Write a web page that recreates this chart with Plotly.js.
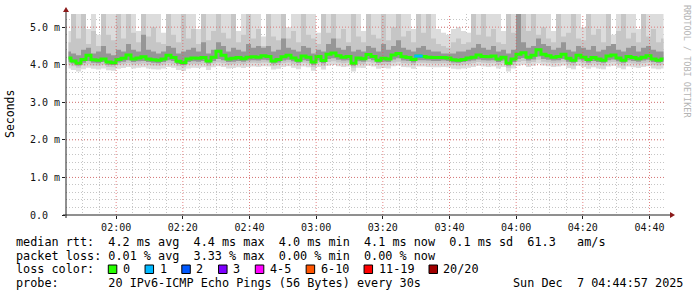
<!DOCTYPE html>
<html>
<head>
<meta charset="utf-8">
<script src="https://cdn.plot.ly/plotly-3.0.1.min.js"></script>
<style>html,body{margin:0;padding:0;background:#fff;}#chart{width:697px;height:297px;}</style>
</head>
<body>
<div id="chart"></div>
<script>
// ---- data (ms), one value per 90 s column, starting 01:44:57 ----
const startTime = Date.UTC(2025, 11, 7, 1, 44, 57);
const endTime = Date.UTC(2025, 11, 7, 4, 44, 57);
const stepSec = 90;

const median = [
4.18,4.10,4.04,4.14,4.25,4.13,4.12,4.15,4.07,4.05,
4.14,4.17,4.26,4.15,4.18,4.21,4.15,4.13,4.12,4.15,
4.25,4.19,4.09,4.06,4.15,4.18,4.17,4.19,4.10,4.20,
4.36,4.25,4.15,4.17,4.19,4.16,4.20,4.21,4.20,4.24,
4.22,4.10,4.14,4.21,4.25,4.18,4.12,4.23,4.20,4.07,
4.22,4.11,4.28,4.31,4.24,4.20,4.22,4.04,4.18,4.16,
4.27,4.22,4.12,4.17,4.15,4.26,4.30,4.21,4.19,4.14,
4.23,4.22,4.20,4.19,4.19,4.19,4.18,4.13,4.12,4.14,
4.18,4.20,4.26,4.22,4.21,4.23,4.15,4.20,4.04,4.15,
4.28,4.32,4.20,4.25,4.40,4.28,4.24,4.20,4.22,4.28,
4.17,4.12,4.25,4.20,4.14,4.19,4.15,4.12,4.23,4.26,
4.18,4.12,4.22,4.19,4.16,4.20,4.24,4.15,4.12,4.15];

const lossCount = [
0,0,0,0,0,0,0,0,0,0, 0,0,0,0,0,0,0,0,0,0,
0,0,0,0,0,0,0,0,0,0, 0,0,0,0,0,0,0,0,0,0,
0,0,0,0,0,0,0,0,0,0, 0,0,0,0,0,0,0,0,0,0,
0,0,0,0,0,0,0,0,0,0, 1,0,0,0,0,0,0,0,0,0,
0,0,0,0,0,0,0,0,0,0, 0,0,0,0,0,0,0,0,0,0,
0,0,0,0,0,0,0,0,0,0, 0,0,0,0,0,0,0,0,0,0];

const smokeMax = [
4.90,5.35,5.35,5.35,4.95,5.35,4.80,5.35,5.35,5.35,
5.35,5.35,5.35,5.35,4.90,5.35,5.35,5.35,5.35,4.85,
5.35,5.35,5.35,5.35,5.35,5.35,4.95,5.35,5.35,5.35,
5.35,5.35,5.35,5.35,4.90,5.35,5.35,5.35,5.35,4.75,
5.35,5.35,5.35,5.35,5.00,5.35,5.35,5.35,5.35,5.35,
4.85,5.35,5.35,5.35,5.35,5.35,5.35,5.35,5.35,4.90,
5.35,5.35,5.35,5.35,5.35,5.35,5.35,5.35,5.35,4.95,
5.35,5.35,5.35,5.35,4.95,4.85,4.80,4.95,5.00,4.90,
4.85,5.35,5.35,5.35,5.35,5.35,5.35,4.90,5.35,5.35,
5.35,5.35,5.35,5.35,5.35,5.35,5.35,4.90,5.35,5.35,
5.35,5.35,5.35,5.00,5.35,5.35,5.35,5.35,5.35,4.80,
5.35,5.35,5.35,5.35,4.95,5.35,5.35,5.35,5.35,5.35];

const smokeHi2 = [
4.60,5.35,4.70,5.35,4.55,4.90,4.50,5.35,4.80,4.65,
5.35,4.70,5.35,4.85,4.60,5.35,4.75,5.00,4.60,4.55,
5.35,4.80,4.60,5.35,4.70,4.95,4.55,5.35,4.65,4.90,
5.35,4.85,4.70,5.35,4.60,4.80,5.35,4.70,4.95,4.50,
5.35,4.75,4.65,5.35,4.70,4.90,4.60,5.35,4.80,4.70,
4.55,5.35,4.85,5.35,4.70,4.95,4.60,5.35,4.75,4.60,
5.35,4.80,4.70,5.35,4.65,5.00,5.35,4.75,4.90,4.60,
5.35,4.85,5.35,4.70,4.55,4.50,4.45,4.60,4.70,4.55,
4.60,5.35,4.80,5.35,4.75,4.95,4.60,4.55,5.35,4.85,
5.35,5.35,4.90,5.35,4.80,5.00,4.70,4.60,5.35,4.75,
4.85,5.35,4.70,4.65,5.35,4.80,4.95,4.60,5.35,4.55,
4.90,5.35,4.70,4.85,4.60,5.35,4.75,4.95,4.60,4.70];

const smokeHi3 = [
4.35,4.30,4.25,4.40,4.45,4.30,4.35,4.50,4.30,4.25,
4.40,4.35,4.55,4.40,4.35,4.80,4.40,4.35,4.30,4.35,
4.50,4.45,4.30,4.35,4.40,4.45,4.35,4.60,4.30,4.40,
4.60,4.50,4.35,4.45,4.40,4.35,4.55,4.45,4.50,4.45,
4.50,4.35,4.40,4.70,4.45,4.40,4.35,4.50,4.45,4.30,
4.40,4.35,4.55,4.70,4.45,4.40,4.50,4.35,4.40,4.35,
4.50,4.45,4.35,4.55,4.40,4.50,4.65,4.45,4.40,4.35,
4.45,4.50,4.40,4.35,4.35,4.30,4.30,4.30,4.35,4.35,
4.40,4.45,4.55,4.45,4.40,4.50,4.35,4.40,4.30,4.40,
5.35,4.60,4.45,4.50,4.70,4.55,4.50,4.40,4.45,4.60,
4.40,4.35,4.50,4.45,4.40,4.50,4.35,4.40,4.50,4.55,
4.40,4.35,4.45,4.50,4.35,4.45,4.50,4.40,4.35,4.35];

const smokeLo3 = [
4.08,4.03,3.98,4.05,4.10,4.05,4.04,4.07,4.00,3.99,
4.06,4.08,4.12,4.07,4.09,4.10,4.07,4.05,4.04,4.07,
4.12,4.10,4.02,3.99,4.07,4.09,4.08,4.10,4.03,4.10,
4.15,4.12,4.07,4.08,4.10,4.08,4.11,4.12,4.11,4.13,
4.12,4.03,4.06,4.11,4.13,4.09,4.05,4.12,4.10,4.00,
4.11,4.04,4.15,4.17,4.13,4.11,4.12,3.98,4.09,4.08,
4.15,4.12,4.05,4.08,4.07,4.14,4.17,4.11,4.10,4.06,
4.12,4.12,4.11,4.10,4.10,4.11,4.10,4.06,4.05,4.07,
4.09,4.11,4.14,4.12,4.11,4.12,4.07,4.11,3.98,4.07,
4.15,4.18,4.11,4.14,4.22,4.15,4.13,4.11,4.12,4.15,
4.08,4.05,4.14,4.11,4.06,4.10,4.07,4.05,4.12,4.14,
4.09,4.05,4.12,4.10,4.08,4.11,4.13,4.07,4.05,4.07];

const smokeLo2 = [
4.00,3.96,3.92,3.98,4.02,3.98,3.97,4.00,3.94,3.93,
3.99,4.01,4.04,4.00,4.02,4.03,4.00,3.98,3.97,4.00,
4.04,4.02,3.96,3.93,4.00,4.02,4.01,4.03,3.96,4.03,
4.06,4.04,4.00,4.01,4.03,4.01,4.04,4.05,4.04,4.06,
4.05,3.97,3.99,4.04,4.06,4.02,3.98,4.05,4.03,3.94,
4.04,3.97,4.07,4.09,4.06,4.04,4.05,3.92,4.02,4.01,
4.07,4.05,3.99,4.01,4.00,4.06,4.08,4.04,4.03,3.99,
4.05,4.05,4.04,4.03,4.03,4.04,4.03,3.99,3.98,4.00,
4.02,4.04,4.07,4.05,4.04,4.05,4.00,4.04,3.92,4.00,
4.07,4.10,4.04,4.07,4.13,4.08,4.06,4.04,4.05,4.08,
4.01,3.98,4.07,4.04,3.99,4.03,4.00,3.98,4.05,4.07,
4.02,3.98,4.05,4.03,4.01,4.04,4.06,4.00,3.98,4.00];

const smokeMin = [
3.90,3.86,3.82,3.88,3.92,3.89,3.87,3.90,3.85,3.84,
3.89,3.91,3.94,3.90,3.92,3.93,3.90,3.88,3.87,3.90,
3.94,3.92,3.86,3.83,3.90,3.92,3.91,3.93,3.86,3.93,
3.96,3.94,3.90,3.91,3.93,3.91,3.94,3.95,3.94,3.96,
3.95,3.87,3.89,3.94,3.96,3.92,3.88,3.95,3.93,3.84,
3.94,3.87,3.97,3.99,3.96,3.94,3.95,3.82,3.92,3.91,
3.97,3.95,3.89,3.91,3.90,3.96,3.98,3.94,3.93,3.89,
3.95,3.95,3.94,3.93,3.93,3.94,3.93,3.89,3.88,3.90,
3.92,3.94,3.97,3.95,3.94,3.95,3.90,3.94,3.82,3.90,
3.97,4.00,3.94,3.97,4.03,3.98,3.96,3.94,3.95,3.98,
3.91,3.88,3.97,3.94,3.89,3.93,3.90,3.88,3.95,3.97,
3.92,3.88,3.95,3.93,3.91,3.94,3.96,3.90,3.88,3.90];

const yTickVals = [0, 1, 2, 3, 4, 5];
const yTickText = ['0.0  ', '1.0 m', '2.0 m', '3.0 m', '4.0 m', '5.0 m'];
const lossLabels = ['0', '1', '2', '3', '4-5', '6-10', '11-19', '20/20'];
const lossColors = ['#26ff00', '#00b8ff', '#0059ff', '#7e00ff', '#ff00ff', '#ff5500', '#ff0000', '#a10000'];
const rttStats = ['4.2 ms avg', '4.4 ms max', '4.0 ms min', '4.1 ms now', '0.1 ms sd', '61.3   am/s'];
const lossStats = ['0.01 % avg', '3.33 % max', '0.00 % min', '0.00 % now'];
const probeText = '20 IPv6-ICMP Echo Pings (56 Bytes) every 30s';
const stampText = 'Sun Dec  7 04:44:57 2025';

// ---- helpers ----
const NB = s => s.replace(/ /g, '\u00a0');
const L = 66, T = 14, W = 600, H = 201;
const px = p => (p - L) / W;
const py = p => (T + H - p) / H;
const FONT = 'DejaVu Sans Mono';

const times = median.map((_, k) => startTime + (stepSec / 2 + k * stepSec) * 1000);

function band(lo, hi, color) {
  return [
    {x: times, y: lo, type: 'scatter', mode: 'lines', line: {width: 0, shape: 'hvh'}, hoverinfo: 'skip', showlegend: false},
    {x: times, y: hi, type: 'scatter', mode: 'lines', line: {width: 0, shape: 'hvh'}, fill: 'tonexty', fillcolor: color, hoverinfo: 'skip', showlegend: false}
  ];
}

function lossClass(n) {
  if (n <= 3) return n;
  if (n <= 5) return 4;
  if (n <= 10) return 5;
  if (n <= 19) return 6;
  return 7;
}

const traces = [].concat(
  band(smokeMin, smokeMax, '#dcdcdc'),
  band(smokeLo2, smokeHi2, '#c6c6c6'),
  band(smokeLo3, smokeHi3, '#969696'),
  [{x: times, y: median, type: 'scatter', mode: 'lines', line: {color: lossColors[0], width: 3, shape: 'hvh'}, hoverinfo: 'skip', showlegend: false}]
);
const lx = [], ly = [], lc = [];
lossCount.forEach((n, k) => { if (n > 0) { lx.push(times[k]); ly.push(median[k]); lc.push(lossColors[lossClass(n)]); } });
traces.push({x: lx, y: ly, type: 'scatter', mode: 'markers',
  marker: {symbol: 'line-ew', size: 6, line: {width: 3, color: lc}}, hoverinfo: 'skip', showlegend: false});

// ---- grid & axes shapes ----
const shapes = [];
const majorGrid = {color: 'rgba(220,90,90,0.75)', width: 1, dash: '1px,2px'};
for (let t = Date.UTC(2025, 11, 7, 2, 0, 0); t <= endTime; t += 20 * 60000) {
  shapes.push({type: 'line', xref: 'x', yref: 'paper', x0: t, x1: t, y0: 0, y1: 1, line: majorGrid, layer: 'above'});
}
yTickVals.filter(v => v > 0).forEach(v => {
  shapes.push({type: 'line', xref: 'paper', yref: 'y', x0: 0, x1: 1, y0: v, y1: v, line: majorGrid, layer: 'above'});
});
// axis lines
shapes.push({type: 'line', xref: 'paper', yref: 'paper', x0: px(63), x1: px(671), y0: 0, y1: 0, line: {color: '#202020', width: 1}, layer: 'above'});
shapes.push({type: 'line', xref: 'paper', yref: 'paper', x0: 0, x1: 0, y0: py(218), y1: py(11), line: {color: '#202020', width: 1}, layer: 'above'});
// arrows
shapes.push({type: 'path', xref: 'paper', yref: 'paper', layer: 'above',
  path: `M ${px(670)} ${py(212)} L ${px(675)} ${py(215)} L ${px(670)} ${py(218)} Z`,
  fillcolor: '#8b1a1a', line: {width: 0}});
shapes.push({type: 'path', xref: 'paper', yref: 'paper', layer: 'above',
  path: `M ${px(63)} ${py(12)} L ${px(66)} ${py(7)} L ${px(69)} ${py(12)} Z`,
  fillcolor: '#8b1a1a', line: {width: 0}});

// ---- text ----
const LF = {family: FONT, size: 11.8, color: '#000'};
const ann = [];
function txt(x, y, text, extra) {
  ann.push(Object.assign({xref: 'paper', yref: 'paper', x: px(x), y: py(y), text: NB(text), showarrow: false,
    xanchor: 'left', yanchor: 'middle', font: LF, borderpad: 0}, extra || {}));
}
txt(15, 241.5, 'median rtt:  ' + rttStats.join('  '));
txt(15, 255.5, 'packet loss: ' + lossStats.join('  '));
txt(15, 269.3, 'loss color:');
txt(15, 283.3, 'probe:       ' + probeText);
txt(512, 283.3, stampText);

// loss colour legend boxes
let bx = 108.3;
lossLabels.forEach((lab, i) => {
  shapes.push({type: 'rect', xref: 'paper', yref: 'paper', x0: px(bx), x1: px(bx + 8.5), y0: py(273.5), y1: py(265),
    fillcolor: lossColors[i], line: {color: '#000', width: 1}, layer: 'above'});
  txt(bx + 13.5, 269.3, lab);
  bx += 29.7 + 7.05 * lab.length;
});

// y title & watermark
ann.push({xref: 'paper', yref: 'paper', x: px(10), y: py(114), text: 'Seconds', showarrow: false, textangle: -90,
  xanchor: 'center', yanchor: 'middle', font: {family: FONT, size: 11.5, color: '#000'}});
ann.push({xref: 'paper', yref: 'paper', x: px(687), y: py(61), text: NB('RRDTOOL / TOBI OETIKER'), showarrow: false, textangle: 90,
  xanchor: 'center', yanchor: 'middle', font: {family: FONT, size: 8.5, color: '#b4b4b4'}});

const minorGrid = {showgrid: true, gridcolor: 'rgba(150,150,150,0.55)', gridwidth: 1, griddash: '1px,2px', ticks: ''};

const layout = {
  width: 697, height: 297,
  margin: {l: L, r: 697 - L - W, t: T, b: 297 - T - H, pad: 0},
  paper_bgcolor: '#ffffff', plot_bgcolor: '#ffffff',
  showlegend: false,
  xaxis: {
    type: 'date', range: [startTime, endTime], fixedrange: true,
    showgrid: false, zeroline: false, showline: false,
    tick0: Date.UTC(2025, 11, 7, 2, 0, 0), dtick: 20 * 60000, tickformat: '%H:%M',
    ticks: 'outside', ticklen: 3, tickcolor: '#202020', tickwidth: 1,
    tickfont: {family: FONT, size: 10, color: '#111'},
    minor: Object.assign({tick0: Date.UTC(2025, 11, 7, 2, 0, 0), dtick: 5 * 60000}, minorGrid)
  },
  yaxis: {
    range: [0, 5.35], fixedrange: true,
    showgrid: false, zeroline: false, showline: false,
    tickmode: 'array', tickvals: yTickVals, ticktext: yTickText.map(NB),
    ticks: 'outside', ticklen: 3, tickcolor: '#202020', tickwidth: 1,
    tickfont: {family: FONT, size: 10, color: '#111'},
    minor: Object.assign({tick0: 0, dtick: 0.2}, minorGrid)
  },
  shapes: shapes,
  annotations: ann
};

Plotly.newPlot('chart', traces, layout, {displayModeBar: false, staticPlot: true});
</script>
</body>
</html>
